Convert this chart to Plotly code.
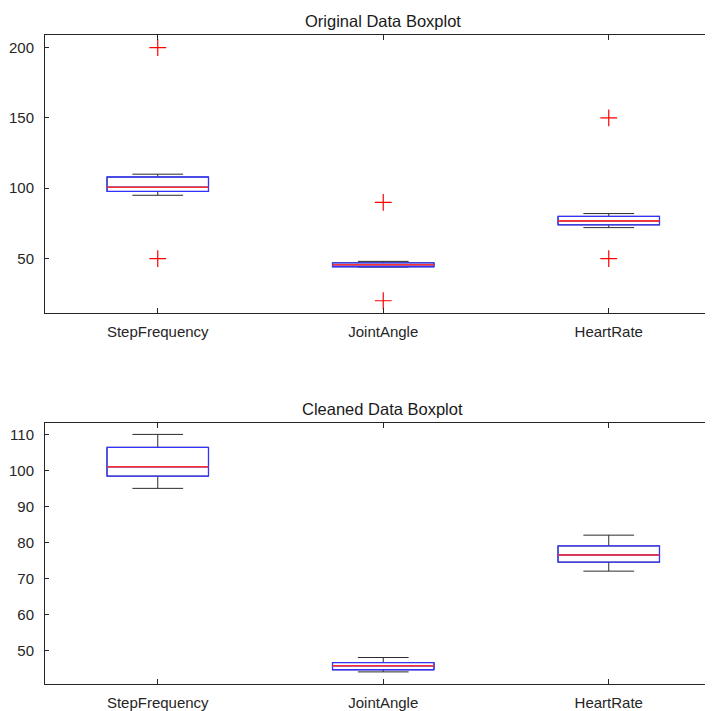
import plotly.graph_objects as go

# ---- data ----
categories = ["StepFrequency", "JointAngle", "HeartRate"]
positions = [1, 2, 3]

orig_q1 = [97.7, 44.2, 74.0]
orig_median = [100.7, 45.6, 76.8]
orig_q3 = [108.0, 47.0, 80.0]
orig_lower = [95, 44, 72]
orig_upper = [110, 48, 82]
orig_outlier_pos = [1, 1, 2, 2, 3, 3]
orig_outlier_val = [200, 50, 90, 20, 150, 50]

clean_q1 = [98.4, 44.6, 74.5]
clean_median = [101.0, 45.7, 76.5]
clean_q3 = [106.4, 46.6, 79.0]
clean_lower = [95, 44, 72]
clean_upper = [110, 48, 82]

orig_yticks = [50, 100, 150, 200]
clean_yticks = [50, 60, 70, 80, 90, 100, 110]

# ---- styling ----
# page body has an 8px margin; the figure's right edge is cropped like the reference
OFF = 8
W, H = 713, 711 - OFF
BOX_W = 0.45
AX_COL = "#262626"
FONT = "Liberation Sans, Arial, sans-serif"

fig = go.Figure()


def add_boxes(q1, med, q3, lo, hi, xa, ya):
    # whiskers + caps (black)
    fig.add_trace(go.Box(x=positions, q1=q1, median=med, q3=q3,
                         lowerfence=lo, upperfence=hi, width=BOX_W,
                         whiskerwidth=0.5, line=dict(color="#2b2b2b", width=1),
                         fillcolor="white", xaxis=xa, yaxis=ya,
                         hoverinfo="skip", showlegend=False))
    # box (blue)
    fig.add_trace(go.Box(x=positions, q1=q1, median=med, q3=q3,
                         lowerfence=q1, upperfence=q3, width=BOX_W,
                         whiskerwidth=0, line=dict(color="#3333ff", width=1.3),
                         fillcolor="rgba(0,0,0,0)", xaxis=xa, yaxis=ya,
                         hoverinfo="skip", showlegend=False))
    # median (red)
    fig.add_trace(go.Box(x=positions, q1=med, median=med, q3=med,
                         lowerfence=med, upperfence=med, width=BOX_W,
                         whiskerwidth=0, line=dict(color="#ff3030", width=1.6),
                         fillcolor="rgba(0,0,0,0)", xaxis=xa, yaxis=ya,
                         hoverinfo="skip", showlegend=False))


add_boxes(orig_q1, orig_median, orig_q3, orig_lower, orig_upper, "x", "y")
fig.add_trace(go.Scatter(x=orig_outlier_pos, y=orig_outlier_val, mode="markers",
                         marker=dict(symbol="cross-thin", size=12,
                                     line=dict(color="red", width=1.2)),
                         xaxis="x", yaxis="y", hoverinfo="skip",
                         showlegend=False))
add_boxes(clean_q1, clean_median, clean_q3, clean_lower, clean_upper, "x2", "y2")

left_px = 45 - OFF
px_per_unit = 225.5
x_range = [0.5, 0.5 + (W - left_px) / px_per_unit]

xdom = [left_px / W, 1.0]
top_dom = [1 - (314.3 - OFF) / H, 1 - (35 - OFF) / H]
bot_dom = [1 - (685.7 - OFF) / H, 1 - (423.7 - OFF) / H]

xcommon = dict(range=x_range, tickvals=positions, ticktext=categories,
               showline=True, linecolor=AX_COL, linewidth=1, mirror="ticks",
               ticks="inside", ticklen=5, tickcolor=AX_COL, showgrid=False,
               zeroline=False, tickfont=dict(size=15, color=AX_COL, family=FONT),
               ticklabelstandoff=5, domain=xdom)
ycommon = dict(showline=True, linecolor=AX_COL, linewidth=1, mirror=False,
               ticks="inside", ticklen=4, tickcolor=AX_COL, showgrid=False,
               zeroline=False, tickfont=dict(size=15, color=AX_COL, family=FONT),
               ticklabelstandoff=7)

cx = (383 - OFF) / W

fig.update_layout(
    width=W, height=H,
    margin=dict(l=0, r=0, t=0, b=0),
    paper_bgcolor="white", plot_bgcolor="white",
    boxmode="overlay",
    showlegend=False,
    xaxis=dict(**xcommon, anchor="y"),
    yaxis=dict(**ycommon, range=[11, 209], tickvals=orig_yticks,
               domain=top_dom, anchor="x"),
    xaxis2=dict(**xcommon, anchor="y2"),
    yaxis2=dict(**ycommon, range=[40.7, 113.3], tickvals=clean_yticks,
                domain=bot_dom, anchor="x2"),
    annotations=[
        dict(text="Original Data Boxplot", xref="paper", yref="paper",
             x=cx, y=1 - (21 - OFF) / H, showarrow=False, xanchor="center",
             yanchor="middle", font=dict(size=16.5, color="#1a1a1a", family=FONT)),
        dict(text="Cleaned Data Boxplot", xref="paper", yref="paper",
             x=cx, y=1 - (410 - OFF) / H, showarrow=False, xanchor="center",
             yanchor="middle", font=dict(size=16.5, color="#1a1a1a", family=FONT)),
    ],
)

fig.write_html("out.html")
